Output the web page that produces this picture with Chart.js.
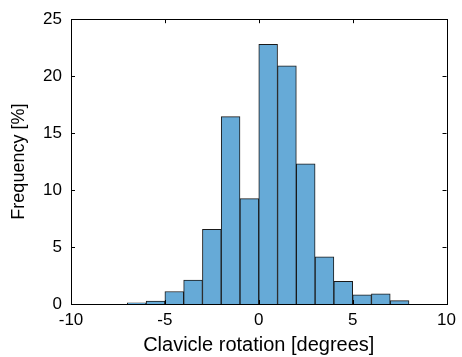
<!DOCTYPE html>
<html>
<head>
<meta charset="utf-8">
<script src="https://cdn.jsdelivr.net/npm/chart.js@4"></script>
<style>
  html, body { margin: 0; padding: 0; background: #fff; }
  #wrap { width: 462px; height: 357px; }
</style>
</head>
<body>
<div id="wrap"><canvas id="myChart" width="462" height="357"></canvas></div>
<script>
// histogram bins (centres, 1 degree wide) and frequencies in %
const binCenters = [-6.5, -5.5, -4.5, -3.5, -2.5, -1.5, -0.5, 0.5, 1.5, 2.5, 3.5, 4.5, 5.5, 6.5, 7.5];
const frequencies = [0.1, 0.25, 1.1, 2.1, 6.55, 16.45, 9.25, 22.8, 20.9, 12.3, 4.15, 2.0, 0.8, 0.9, 0.3];
const xTicks = [-10, -5, 0, 5, 10];
const yTicks = [0, 5, 10, 15, 20, 25];

Chart.defaults.font.family = '"Liberation Sans", Arial, sans-serif';
Chart.defaults.color = '#000';

// box around the plot with inward tick marks on all four sides
const boxTicks = {
    id: 'boxTicks',
    afterDraw(chart) {
        const ctx = chart.ctx;
        const a = chart.chartArea;
        const xs = chart.scales.x, ys = chart.scales.y;
        ctx.save();
        ctx.strokeStyle = '#000';
        ctx.lineWidth = 1;
        ctx.strokeRect(Math.round(a.left) + 0.5, Math.round(a.top) + 0.5,
            Math.round(a.right - a.left), Math.round(a.bottom - a.top));
        ctx.beginPath();
        xTicks.forEach(v => {
            const px = Math.round(xs.getPixelForValue(v)) + 0.5;
            ctx.moveTo(px, a.bottom); ctx.lineTo(px, a.bottom - 4);
            ctx.moveTo(px, a.top); ctx.lineTo(px, a.top + 4);
        });
        yTicks.forEach(v => {
            const py = Math.round(ys.getPixelForValue(v)) + 0.5;
            ctx.moveTo(a.left, py); ctx.lineTo(a.left + 4, py);
            ctx.moveTo(a.right, py); ctx.lineTo(a.right - 4, py);
        });
        ctx.stroke();
        ctx.restore();
    }
};

const ctx = document.getElementById('myChart');

new Chart(ctx, {
    type: 'bar',
    data: {
        datasets: [{
            data: binCenters.map((c, i) => ({ x: c, y: frequencies[i] })),
            backgroundColor: '#66aad7',
            borderColor: '#1a1a1a',
            borderWidth: 1,
            borderSkipped: 'bottom',
            barPercentage: 1,
            categoryPercentage: 1
        }]
    },
    options: {
        responsive: false,
        animation: false,
        layout: { padding: { top: 18, right: 9, left: 0, bottom: 0 } },
        plugins: { legend: { display: false }, tooltip: { enabled: false } },
        scales: {
            x: {
                type: 'linear',
                offset: false,
                min: -10,
                max: 10,
                afterBuildTicks: s => { s.ticks = xTicks.map(v => ({ value: v })); },
                afterFit: s => { s.height = 53; },
                grid: { display: false, drawTicks: false, offset: false },
                border: { display: false },
                ticks: { font: { size: 17 }, padding: 6, maxRotation: 0 },
                title: { display: true, text: 'Clavicle rotation [degrees]', font: { size: 20 }, padding: { top: 1, bottom: 0 } }
            },
            y: {
                min: 0,
                max: 25,
                afterBuildTicks: s => { s.ticks = yTicks.map(v => ({ value: v })); },
                afterFit: s => { s.width = 71; },
                grid: { display: false, drawTicks: false },
                border: { display: false },
                ticks: { font: { size: 17 }, padding: 9 },
                title: { display: true, text: 'Frequency [%]', font: { size: 18 }, padding: { top: 8, bottom: 4 } }
            }
        }
    },
    plugins: [boxTicks]
});
</script>
</body>
</html>
